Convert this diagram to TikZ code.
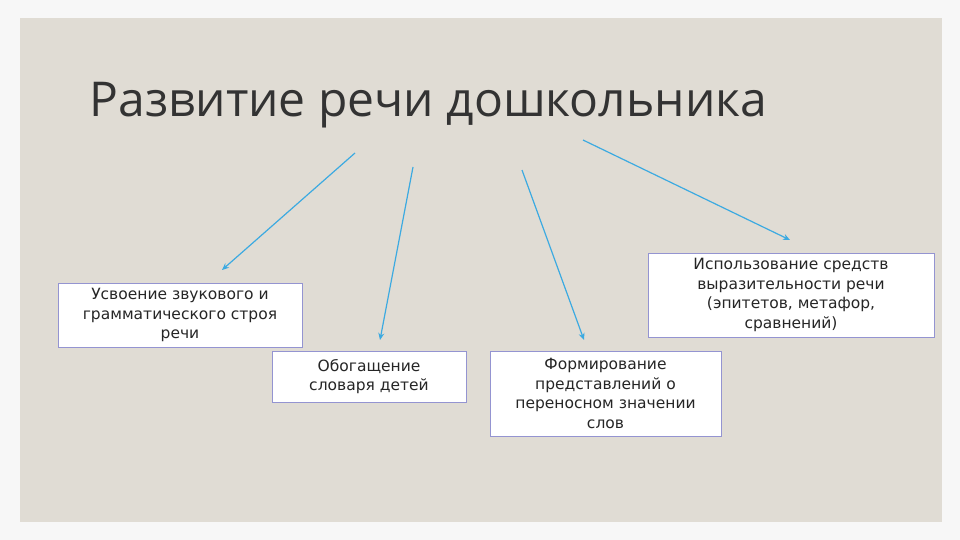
\documentclass[tikz,border=0pt]{standalone}
\usepackage{fontspec}
\usetikzlibrary{arrows.meta}
\setmainfont{Open Sans}
\newfontfamily\boxfont{DejaVu Sans}
\begin{document}
\begin{tikzpicture}[x=1pt,y=-1pt,
  box/.style={draw=gray!60!blue!60, fill=white, line width=0.6pt, align=center, font=\boxfont\fontsize{15.5}{19.5}\selectfont, text=black!85, inner sep=1pt},
  arr/.style={draw={rgb,255:red,60;green,170;blue,225}, line width=1.2pt, -{Stealth[length=7pt,width=6pt]}}]
\fill[white!94!gray] (0,0) rectangle (960,540);
\fill[fill={rgb,255:red,224;green,220;blue,212}] (20,18) rectangle (942,522);
\node[anchor=west, font=\fontsize{48}{54}\selectfont, text=black!80] (title) at (86,105) {Развитие речи дошкольника};
\node[box, minimum width=244pt, minimum height=64pt] (b1) at (180,315) {Усвоение звукового и\\грамматического строя\\речи};
\node[box, minimum width=194pt, minimum height=51pt] (b2) at (369,376.5) {Обогащение\\словаря детей};
\node[box, minimum width=231pt, minimum height=85pt] (b3) at (605.5,393.5) {Формирование\\представлений о\\переносном значении\\слов};
\node[box, minimum width=286pt, minimum height=84pt] (b4) at (791,295) {Использование средств\\выразительности речи\\(эпитетов, метафор,\\сравнений)};
\coordinate (s1) at (355,153); \coordinate (e1) at (222,270);
\coordinate (s2) at (413,167); \coordinate (e2) at (380,340);
\coordinate (s3) at (522,170); \coordinate (e3) at (584,340);
\coordinate (s4) at (583,140); \coordinate (e4) at (790,240);
\draw[arr] (s1) -- (e1);
\draw[arr] (s2) -- (e2);
\draw[arr] (s3) -- (e3);
\draw[arr] (s4) -- (e4);
\end{tikzpicture}
\end{document}
